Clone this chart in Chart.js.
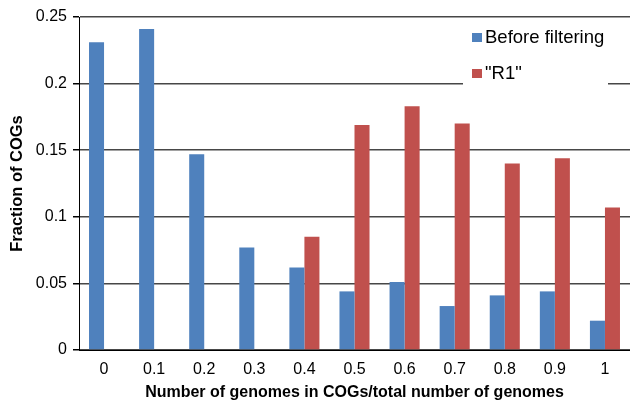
<!DOCTYPE html>
<html>
<head>
<meta charset="utf-8">
<script src="https://cdn.jsdelivr.net/npm/chart.js@4.4.1/dist/chart.umd.min.js"></script>
<style>
  html, body { margin: 0; padding: 0; background: #fff; }
  #wrap { width: 630px; height: 403px; position: relative; }
</style>
</head>
<body>
<div id="wrap"><canvas id="cogChart" width="630" height="403"></canvas></div>
<script>
const categories = ['0', '0.1', '0.2', '0.3', '0.4', '0.5', '0.6', '0.7', '0.8', '0.9', '1'];
const beforeFiltering = [0.231, 0.241, 0.147, 0.077, 0.062, 0.044, 0.051, 0.033, 0.041, 0.044, 0.022];
const r1 = [0, 0, 0, 0, 0.085, 0.169, 0.183, 0.170, 0.140, 0.144, 0.107];
const yTicks = [0, 0.05, 0.1, 0.15, 0.2, 0.25];

const FONT = "'Liberation Sans', Arial, sans-serif";

// legend drawn inside the plot, on a white box that hides the grid line
const innerLegend = {
    id: 'innerLegend',
    afterDraw(chart) {
        const ctx = chart.ctx;
        ctx.save();
        ctx.fillStyle = '#fff';
        ctx.fillRect(463, 19, 145, 70);
        ctx.font = '18.5px ' + FONT;
        ctx.textBaseline = 'middle';
        chart.data.datasets.forEach((ds, i) => {
            const y = 37 + i * 36;
            ctx.fillStyle = ds.backgroundColor;
            ctx.fillRect(472, y - 4, 10, 9);
            ctx.fillStyle = '#000';
            ctx.fillText(ds.label, 485, y + 1);
        });
        ctx.restore();
    }
};

new Chart(document.getElementById('cogChart').getContext('2d'), {
    type: 'bar',
    data: {
        labels: categories,
        datasets: [
            { label: 'Before filtering', data: beforeFiltering, backgroundColor: '#4F81BD' },
            { label: '"R1"', data: r1, backgroundColor: '#C0504D' },
        ],
    },
    options: {
        responsive: false,
        animation: false,
        devicePixelRatio: 1,
        layout: { padding: { top: 17, right: 0, left: 0, bottom: 0 } },
        datasets: { bar: { categoryPercentage: 0.6, barPercentage: 1.0 } },
        plugins: {
            legend: { display: false },
            tooltip: { enabled: false },
        },
        scales: {
            x: {
                grid: { display: false, drawTicks: false },
                border: { display: true, color: '#000', width: 1 },
                ticks: { color: '#000', font: { family: FONT, size: 16 }, padding: 10, maxRotation: 0 },
                title: {
                    display: true,
                    text: 'Number of genomes in COGs/total number of genomes',
                    color: '#000',
                    font: { family: FONT, size: 16, weight: 'bold' },
                    padding: { top: 0, bottom: 1 },
                },
                afterFit(scale) { scale.height = 53; },
            },
            y: {
                min: 0,
                max: 0.25,
                afterBuildTicks(scale) { scale.ticks = yTicks.map((v) => ({ value: v })); },
                grid: { color: '#474747', lineWidth: 1.5, tickLength: 6, tickColor: '#000' },
                border: { display: true, color: '#000', width: 1 },
                ticks: {
                    color: '#000',
                    font: { family: FONT, size: 16 },
                    padding: 6,
                    callback: (v) => String(+Number(v).toFixed(2)),
                },
                title: {
                    display: true,
                    text: 'Fraction of COGs',
                    color: '#000',
                    font: { family: FONT, size: 16.5, weight: 'bold' },
                    padding: { top: 8, bottom: 0 },
                },
                afterFit(scale) { scale.width = 79; },
            },
        },
    },
    plugins: [innerLegend],
});
</script>
</body>
</html>
